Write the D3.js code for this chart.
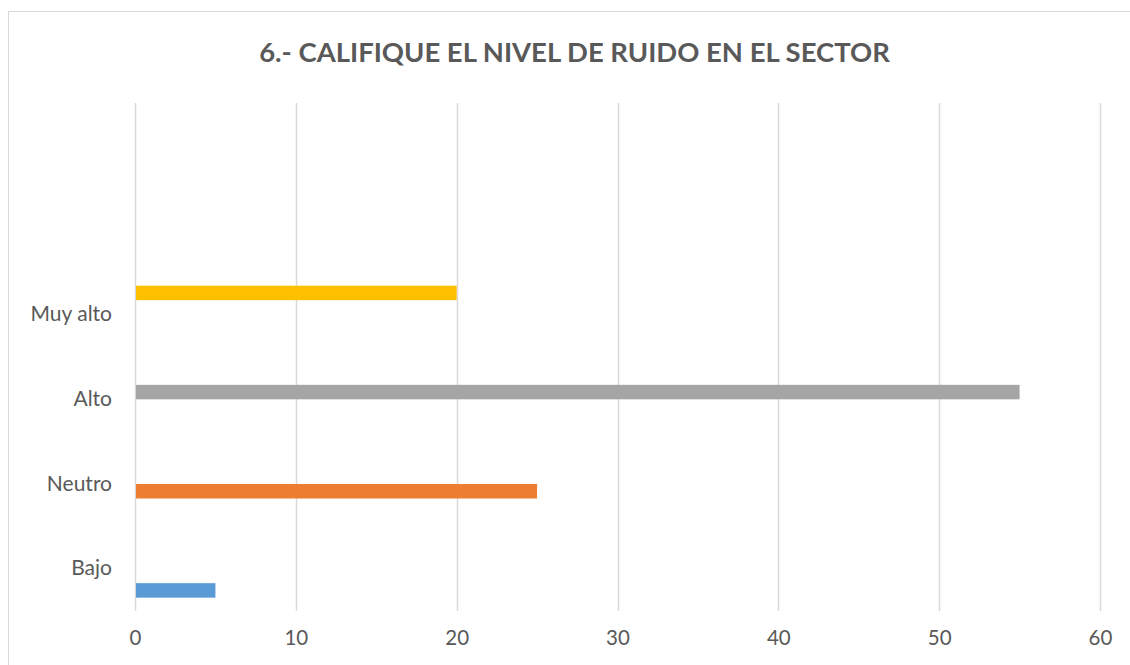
<!DOCTYPE html>
<html><head><meta charset="utf-8">
<script src="https://cdn.jsdelivr.net/npm/d3@7"></script>
<style>body{margin:0;background:#fff}svg{display:block}</style>
</head><body>
<svg id="c" width="1130" height="665"></svg>
<script>
const categories = ["Bajo", "Neutro", "Alto", "Muy alto", "", " "];
const seriesNames = ["Bajo", "Neutro", "Alto", "Muy alto"];
const seriesValues = [5, 25, 55, 20];
const seriesColors = ["#5B9BD5", "#ED7D31", "#A5A5A5", "#FFC000"];
const xTicks = [0, 10, 20, 30, 40, 50, 60];
const title = "6.- CALIFIQUE EL NIVEL DE RUIDO EN EL SECTOR";

const svg = d3.select("#c");
const font = "Lato, 'Open Sans', sans-serif";
svg.append("rect").attr("x", 8.5).attr("y", 11.5).attr("width", 1140).attr("height", 680)
  .attr("fill", "#fff").attr("stroke", "#D9D9D9").attr("stroke-width", 1);

const pLeft = 135, pRight = 1100, pTop = 103, pBottom = 611;
const x = d3.scaleLinear().domain([0, 60]).range([pLeft, pRight]);
const y = d3.scaleBand().domain(categories).range([pBottom, pTop]).paddingInner(0.315).paddingOuter(0.1575);
const inner = d3.scaleBand().domain(seriesNames).range([y.bandwidth(), 0]);

// gridlines
svg.append("g").selectAll("line").data(xTicks).join("line")
  .attr("x1", d => Math.round(x(d)) + 0.5).attr("x2", d => Math.round(x(d)) + 0.5)
  .attr("y1", pTop).attr("y2", pBottom)
  .attr("stroke", "#D9D9D9").attr("stroke-width", 1.5);

// bars: each series has its value in the matching category
svg.append("g").selectAll("rect").data(seriesNames.map((s, i) => ({s, v: seriesValues[i], c: seriesColors[i], cat: categories[i]})))
  .join("rect")
  .attr("x", x(0) + 1)
  .attr("y", d => y(d.cat) + inner(d.s))
  .attr("width", d => x(d.v) - x(0) - 1)
  .attr("height", inner.bandwidth())
  .attr("fill", d => d.c);

// x axis labels
const xa = svg.append("g").attr("transform", `translate(0,${pBottom})`)
  .call(d3.axisBottom(x).tickValues(xTicks).tickSize(0).tickPadding(19));
xa.select(".domain").remove();
xa.selectAll("text").attr("font-family", font).attr("font-size", 20.5).attr("fill", "#595959").attr("dy", "0.71em");

// y axis labels
const ya = svg.append("g").attr("transform", `translate(${pLeft},0)`)
  .call(d3.axisLeft(y).tickSize(0).tickPadding(23));
ya.select(".domain").remove();
ya.selectAll("text").attr("font-family", font).attr("font-size", 21).attr("fill", "#595959");

// title
const t = svg.append("text").attr("x", 574.5).attr("y", 62).attr("text-anchor", "middle")
  .attr("font-family", font).attr("font-weight", "bold").attr("font-size", 28)
  .attr("fill", "#595959").text(title);
const w = t.node().getComputedTextLength();
t.attr("font-size", 28 * 631 / w);
</script>
</body></html>
